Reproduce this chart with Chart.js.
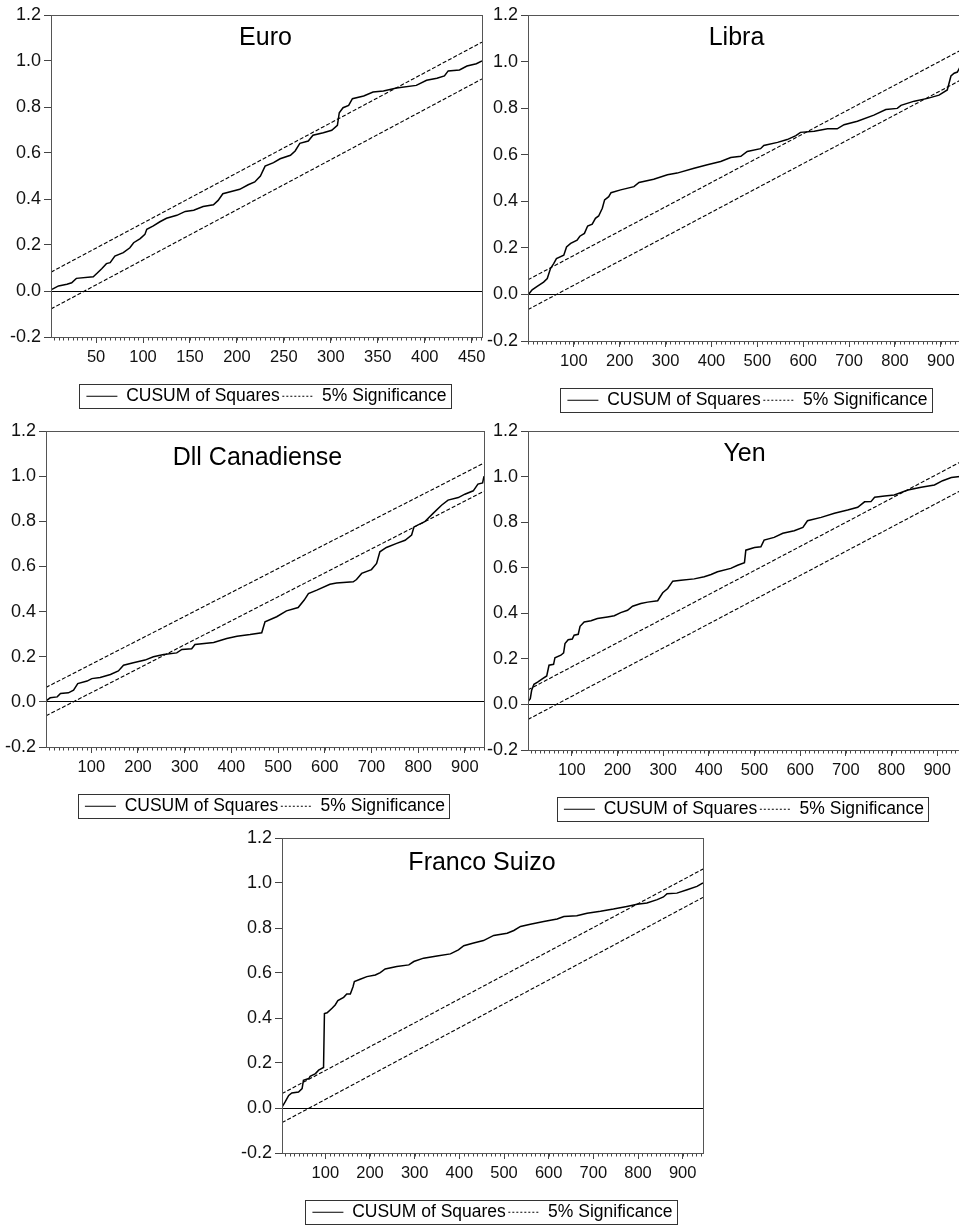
<!DOCTYPE html>
<html>
<head>
<meta charset="utf-8">
<script src="https://cdn.jsdelivr.net/npm/chart.js@4.4.1/dist/chart.umd.min.js"></script>
<style>
html,body{margin:0;padding:0;background:#fff;overflow:hidden;width:959px;height:1226px;position:relative;}
.panel{position:absolute;}
canvas{display:block;}
</style>
</head>
<body>
<div class="panel" id="p0"><canvas id="c0"></canvas></div>
<div class="panel" id="p1"><canvas id="c1"></canvas></div>
<div class="panel" id="p2"><canvas id="c2"></canvas></div>
<div class="panel" id="p3"><canvas id="c3"></canvas></div>
<div class="panel" id="p4"><canvas id="c4"></canvas></div>
<script>
// ---------------- DATA ----------------
const titles = ['Euro', 'Libra', 'Dll Canadiense', 'Yen', 'Franco Suizo'];
const legendLabels = ['CUSUM of Squares', '5% Significance'];
const yTicks = [-0.2, 0.0, 0.2, 0.4, 0.6, 0.8, 1.0, 1.2];
const euroTicks = [50, 100, 150, 200, 250, 300, 350, 400, 450];
const fullTicks = [100, 200, 300, 400, 500, 600, 700, 800, 900];

// Euro
const euroObs = [3,10,19,24,29,47,51,56,61,65,70,79,86,90,97,102,104,111,118,125,136,145,154,164,175,180,185,196,203,212,219,225,230,239,246,257,262,267,276,281,292,301,307,309,313,319,323,335,345,356,370,391,402,413,421,425,437,445,455,461];
const euroCusum = [0.007,0.022,0.029,0.036,0.055,0.062,0.077,0.097,0.119,0.123,0.152,0.167,0.188,0.21,0.228,0.246,0.268,0.283,0.301,0.316,0.329,0.346,0.351,0.367,0.375,0.394,0.423,0.435,0.442,0.462,0.474,0.5,0.543,0.558,0.575,0.59,0.609,0.642,0.652,0.677,0.688,0.699,0.72,0.775,0.797,0.807,0.836,0.848,0.865,0.87,0.883,0.894,0.916,0.925,0.935,0.957,0.961,0.978,0.988,1.0];
const euroBandObs = [2, 461];
const euroUpper = [0.082, 1.082];
const euroLower = [-0.078, 0.922];

// Libra
const libraObs = [1,9,20,34,42,49,56,62,78,84,93,107,113,123,130,140,147,154,162,167,176,181,202,231,242,274,304,325,362,391,420,442,464,478,507,514,544,565,584,594,624,653,674,689,718,754,780,805,813,842,871,896,914,922,929,936,941,948,957];
const libraCusum = [0,0.02,0.035,0.053,0.068,0.111,0.132,0.154,0.168,0.204,0.219,0.233,0.25,0.262,0.294,0.302,0.327,0.337,0.37,0.406,0.42,0.437,0.449,0.463,0.481,0.495,0.514,0.521,0.542,0.557,0.571,0.588,0.593,0.614,0.626,0.64,0.653,0.665,0.682,0.696,0.701,0.711,0.711,0.729,0.744,0.77,0.794,0.799,0.812,0.83,0.842,0.856,0.878,0.938,0.95,0.955,0.974,0.985,1.0];
const libraBandObs = [0, 957];
const libraUpper = [0.063, 1.063];
const libraLower = [-0.065, 0.935];

// Dll Canadiense
const cadObs = [3,12,27,34,51,62,71,91,101,119,141,158,169,190,215,233,255,283,294,315,322,362,390,412,440,465,472,497,518,543,556,565,583,611,625,661,668,679,700,711,718,732,754,772,786,791,814,832,850,864,886,900,918,928,938,941];
const cadCusum = [0.004,0.018,0.022,0.037,0.04,0.052,0.081,0.092,0.103,0.108,0.121,0.137,0.162,0.173,0.185,0.2,0.21,0.217,0.232,0.235,0.254,0.263,0.281,0.291,0.298,0.306,0.355,0.377,0.403,0.418,0.451,0.48,0.495,0.521,0.527,0.532,0.542,0.569,0.586,0.613,0.665,0.684,0.702,0.716,0.739,0.775,0.798,0.835,0.871,0.894,0.905,0.92,0.935,0.965,0.97,1.0];
const cadBandObs = [3, 941];
const cadUpper = [0.064, 1.058];
const cadLower = [-0.062, 0.933];

// Yen
const yenObs = [5,9,12,17,25,36,45,50,60,63,76,82,85,92,101,105,114,118,127,142,156,178,193,207,222,233,251,266,288,299,310,321,339,368,390,405,419,448,463,478,481,500,514,521,543,562,587,606,616,646,675,704,726,741,755,763,785,806,836,865,894,912,931,950];
const yenCusum = [0.015,0.025,0.062,0.088,0.098,0.113,0.125,0.172,0.176,0.205,0.216,0.226,0.267,0.284,0.287,0.304,0.308,0.343,0.362,0.367,0.377,0.384,0.389,0.403,0.413,0.431,0.443,0.449,0.455,0.49,0.509,0.541,0.545,0.551,0.56,0.57,0.582,0.597,0.611,0.622,0.677,0.689,0.692,0.721,0.733,0.751,0.762,0.777,0.806,0.821,0.839,0.853,0.865,0.889,0.89,0.909,0.915,0.919,0.941,0.953,0.963,0.982,0.996,1.0];
const yenBandObs = [4, 950];
const yenUpper = [0.064, 1.063];
const yenLower = [-0.066, 0.937];

// Franco Suizo
const chfObs = [3,10,18,25,40,48,51,63,66,78,85,96,98,104,115,122,128,141,148,156,162,165,178,193,212,223,234,260,287,298,320,350,380,398,410,432,454,477,507,522,537,559,589,619,634,663,686,716,745,775,798,820,843,857,865,887,910,932,945.5];
const chfCusum = [0.004,0.027,0.056,0.067,0.071,0.086,0.123,0.131,0.141,0.153,0.168,0.18,0.42,0.423,0.443,0.458,0.477,0.492,0.507,0.507,0.539,0.562,0.572,0.584,0.591,0.602,0.618,0.629,0.636,0.651,0.666,0.676,0.685,0.703,0.721,0.733,0.744,0.767,0.777,0.789,0.807,0.817,0.829,0.84,0.851,0.854,0.866,0.874,0.884,0.896,0.906,0.911,0.926,0.938,0.952,0.955,0.97,0.985,1.0];
const chfBandObs = [3, 945.5];
const chfUpper = [0.064, 1.062];
const chfLower = [-0.065, 0.936];

// ---------------- LAYOUT / STYLE ----------------
const FONT = "'Liberation Sans', Arial, Helvetica, sans-serif";
Chart.defaults.font.family = FONT;
Chart.defaults.color = '#000';
const Y_W = 48, X_H = 48, PAD_T = 15, PAD_R = 22, PAD_B = 4, LEG_H = 30;

const panels = [
  {title: titles[0], obs: euroObs, cusum: euroCusum, band: euroBandObs, up: euroUpper, lo: euroLower, ticks: euroTicks, minor: 5,
   L: 51, T: 15, R: 482, B: 337, xmin: 2, xmax: 461, dx: -1, dy: 30},
  {title: titles[1], obs: libraObs, cusum: libraCusum, band: libraBandObs, up: libraUpper, lo: libraLower, ticks: fullTicks, minor: 10,
   L: 528, T: 15, R: 967, B: 341, xmin: 0, xmax: 957, dx: -11, dy: 29.5},
  {title: titles[2], obs: cadObs, cusum: cadCusum, band: cadBandObs, up: cadUpper, lo: cadLower, ticks: fullTicks, minor: 10,
   L: 46, T: 431, R: 484, B: 747, xmin: 3, xmax: 941, dx: -7.5, dy: 34},
  {title: titles[3], obs: yenObs, cusum: yenCusum, band: yenBandObs, up: yenUpper, lo: yenLower, ticks: fullTicks, minor: 10,
   L: 528, T: 431, R: 960, B: 750, xmin: 4, xmax: 950, dx: 0.5, dy: 29.5},
  {title: titles[4], obs: chfObs, cusum: chfCusum, band: chfBandObs, up: chfUpper, lo: chfLower, ticks: fullTicks, minor: 10,
   L: 282, T: 838, R: 703, B: 1153, xmin: 3, xmax: 945.5, dx: -10.5, dy: 32}
];

const zip = (xs, ys) => xs.map((x, i) => ({x: x, y: ys[i]}));

const framePlugin = {
  id: 'eviewsFrame',
  afterDraw(chart, args, o) {
    const {ctx, chartArea: a, scales} = chart;
    ctx.save();
    const xs = scales.x;
    ctx.strokeStyle = '#444';
    ctx.lineWidth = 1;
    ctx.setLineDash([]);
    ctx.beginPath();
    const start = Math.ceil(xs.min / o.minor) * o.minor;
    for (let v = start; v <= xs.max + 1e-9; v += o.minor) {
      const px = Math.round(xs.getPixelForValue(v)) + 0.5;
      ctx.moveTo(px, Math.round(a.bottom));
      ctx.lineTo(px, Math.round(a.bottom) + 3.5);
    }
    ctx.stroke();
    ctx.strokeStyle = '#555';
    ctx.strokeRect(Math.round(a.left) + 0.5, Math.round(a.top) + 0.5,
                   Math.round(a.right) - Math.round(a.left), Math.round(a.bottom) - Math.round(a.top));
    ctx.fillStyle = '#000';
    ctx.font = '25px ' + FONT;
    ctx.textAlign = 'center';
    ctx.textBaseline = 'alphabetic';
    ctx.fillText(o.title, (a.left + a.right) / 2 + o.dx, a.top + o.dy);
    const hb = chart.legend && chart.legend.legendHitBoxes;
    if (hb && hb.length) {
      const first = hb[0], last = hb[hb.length - 1];
      const x1 = Math.round(first.left - 7) + 0.5;
      const x2 = Math.round(last.left + last.width + 4) + 0.5;
      const yc = first.top + first.height / 2;
      const y1 = Math.round(yc - 12) + 0.5;
      ctx.strokeStyle = '#333';
      ctx.strokeRect(x1, y1, x2 - x1, 24);
    }
    ctx.restore();
  }
};

panels.forEach((p, i) => {
  const plotW = p.R - p.L, plotH = p.B - p.T;
  const W = Y_W + plotW + PAD_R;
  const H = PAD_T + plotH + X_H + LEG_H + PAD_B;
  const div = document.getElementById('p' + i);
  div.style.left = (p.L - Y_W) + 'px';
  div.style.top = (p.T - PAD_T) + 'px';
  div.style.width = W + 'px';
  div.style.height = H + 'px';
  const cv = document.getElementById('c' + i);
  cv.width = W; cv.height = H;
  cv.style.width = W + 'px'; cv.style.height = H + 'px';

  new Chart(cv, {
    type: 'scatter',
    data: {
      datasets: [
        {label: legendLabels[0], data: zip(p.obs, p.cusum), showLine: true, borderColor: '#000', borderWidth: 1.5,
         pointRadius: 0, tension: 0, fill: false},
        {label: legendLabels[1], data: zip(p.band, p.up), showLine: true, borderColor: '#000', borderWidth: 1.1,
         borderDash: [4, 2], pointRadius: 0, fill: false},
        {label: legendLabels[1], data: zip(p.band, p.lo), showLine: true, borderColor: '#000', borderWidth: 1.1,
         borderDash: [4, 2], pointRadius: 0, fill: false}
      ]
    },
    options: {
      responsive: false,
      devicePixelRatio: 1,
      animation: false,
      layout: {padding: {top: PAD_T, right: PAD_R, bottom: PAD_B, left: 0}},
      scales: {
        x: {
          type: 'linear', position: 'bottom', min: p.xmin, max: p.xmax,
          afterBuildTicks: (s) => { s.ticks = p.ticks.map(v => ({value: v})); },
          afterFit: (s) => { s.height = X_H; },
          grid: {drawOnChartArea: false, drawTicks: true, tickLength: 6, tickColor: '#444', tickWidth: 1},
          border: {display: false},
          ticks: {autoSkip: false, maxRotation: 0, minRotation: 0, padding: 5, color: '#111',
                  font: {size: 16.5}, callback: (v) => String(v)}
        },
        y: {
          type: 'linear', position: 'left', min: -0.2, max: 1.2,
          afterBuildTicks: (s) => { s.ticks = yTicks.map(v => ({value: v})); },
          afterFit: (s) => { s.width = Y_W; },
          grid: {drawOnChartArea: true, drawTicks: true, tickLength: 7, tickColor: '#444', tickWidth: 1, lineWidth: 1,
                 color: (c) => (c.tick && Math.abs(c.tick.value) < 1e-9) ? '#000' : 'rgba(0,0,0,0)'},
          border: {display: false},
          ticks: {padding: 3, color: '#111', font: {size: 18}, callback: (v) => Number(v).toFixed(1)}
        }
      },
      plugins: {
        tooltip: {enabled: false},
        title: {display: false},
        legend: {
          display: true, position: 'bottom', fullSize: false, align: 'center',
          labels: {
            usePointStyle: true, pointStyleWidth: 31, boxHeight: 10, padding: 2.5,
            color: '#000', font: {size: 17.5},
            generateLabels: () => [
              {text: legendLabels[0], fillStyle: 'rgba(0,0,0,0)', strokeStyle: '#000', lineWidth: 1, lineDash: [],
               pointStyle: 'line', hidden: false, datasetIndex: 0, fontColor: '#000'},
              {text: legendLabels[1], fillStyle: 'rgba(0,0,0,0)', strokeStyle: '#000', lineWidth: 1, lineDash: [2, 2],
               pointStyle: 'line', hidden: false, datasetIndex: 1, fontColor: '#000'}
            ]
          }
        },
        eviewsFrame: {title: p.title, dx: p.dx, dy: p.dy, minor: p.minor}
      }
    },
    plugins: [framePlugin]
  });
});
</script>
</body>
</html>
